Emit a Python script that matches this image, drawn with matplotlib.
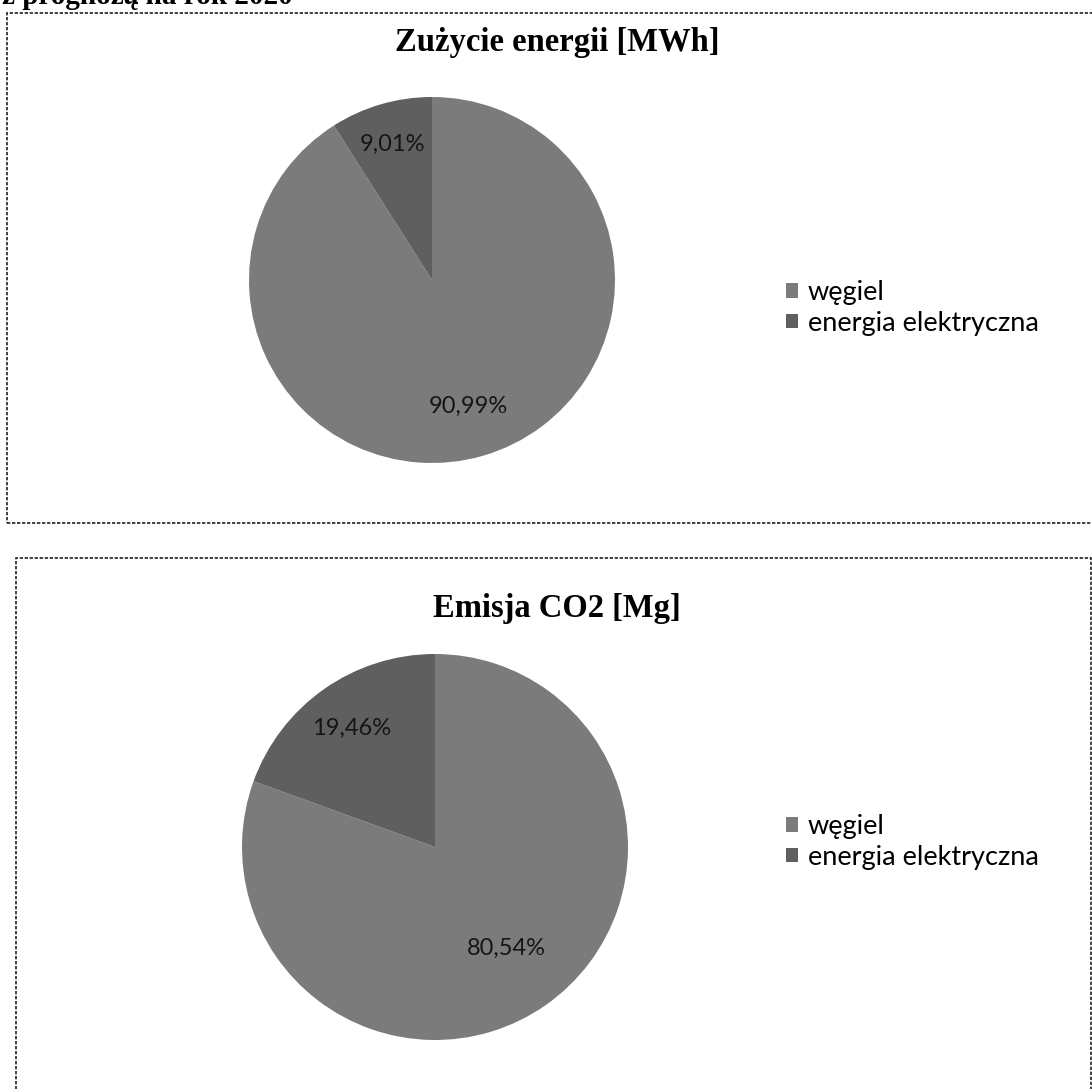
import numpy as np
import matplotlib.pyplot as plt
from matplotlib.patches import Rectangle

W, H = 1092, 1089

# data
categories = ['węgiel', 'energia elektryczna']
energy_mwh_pct = [90.99, 9.01]
co2_mg_pct = [80.54, 19.46]
titles = ['Zużycie energii [MWh]', 'Emisja CO2 [Mg]']
slice_colors = ['#7b7b7b', '#5f5f5f']

fig = plt.figure(figsize=(W / 100, H / 100), dpi=100)

def px_box(x0, y0, x1, y1):
    # pixel box (top-left origin) -> figure fraction rect
    return [x0 / W, 1 - y1 / H, (x1 - x0) / W, (y1 - y0) / H]

def pct_fmt(p):
    return f'{p:.2f}%'.replace('.', ',')

# frames around the two charts
fig.patches.append(Rectangle((7 / W, 1 - 523 / H), 1.2, (523 - 13) / H,
                             transform=fig.transFigure, fill=False,
                             edgecolor='#222222', linewidth=1.2, linestyle=(0, (2, 1))))
fig.patches.append(Rectangle((16 / W, 1 - 1100 / H), (1091 - 16) / W, (1100 - 558) / H,
                             transform=fig.transFigure, fill=False,
                             edgecolor='#222222', linewidth=1.2, linestyle=(0, (2, 1))))

# cut-off heading line from the page above
fig.text(2 / W, 1 - 4 / H, 'z prognozą na rok 2020', family='Liberation Serif',
         weight='bold', fontsize=21, va='baseline', ha='left')

# (values, pie centre/radius in px, title y, legend y, label distances)
charts = [
    (energy_mwh_pct, (432, 280, 183), 42, 308, [0.72, 0.77]),
    (co2_mg_pct, (435, 847, 193), 608, 842, [0.64, 0.75]),
]

for (values, (cx, cy, r), ty, ly, dists), title in zip(charts, titles):
    ax = fig.add_axes(px_box(cx - r, cy - r, cx + r, cy + r))
    wedges, _, autotexts = ax.pie(values, colors=slice_colors, startangle=90,
                                  counterclock=False, autopct=pct_fmt,
                                  wedgeprops=dict(linewidth=0))
    for w, t, d in zip(wedges, autotexts, dists):
        ang = np.deg2rad((w.theta1 + w.theta2) / 2)
        t.set_position((d * np.cos(ang), d * np.sin(ang)))
        t.set_family('Lato')
        t.set_fontsize(17)
        t.set_color('#151515')
    ax.set_xlim(-1, 1)
    ax.set_ylim(-1, 1)
    ax.set_aspect('equal')
    ax.axis('off')

    fig.text(557 / W, 1 - ty / H, title, family='Liberation Serif', weight='bold',
             fontsize=23.5, ha='center', va='center')

    fig.legend(wedges, categories, loc='center left',
               bbox_to_anchor=(786 / W, 1 - ly / H), bbox_transform=fig.transFigure,
               frameon=False, prop={'family': 'Lato', 'size': 19.5},
               handlelength=0.45, handleheight=0.45, handletextpad=0.35,
               labelspacing=0.2, borderpad=0, borderaxespad=0)

fig.savefig('out.png', dpi=100, facecolor='white')
